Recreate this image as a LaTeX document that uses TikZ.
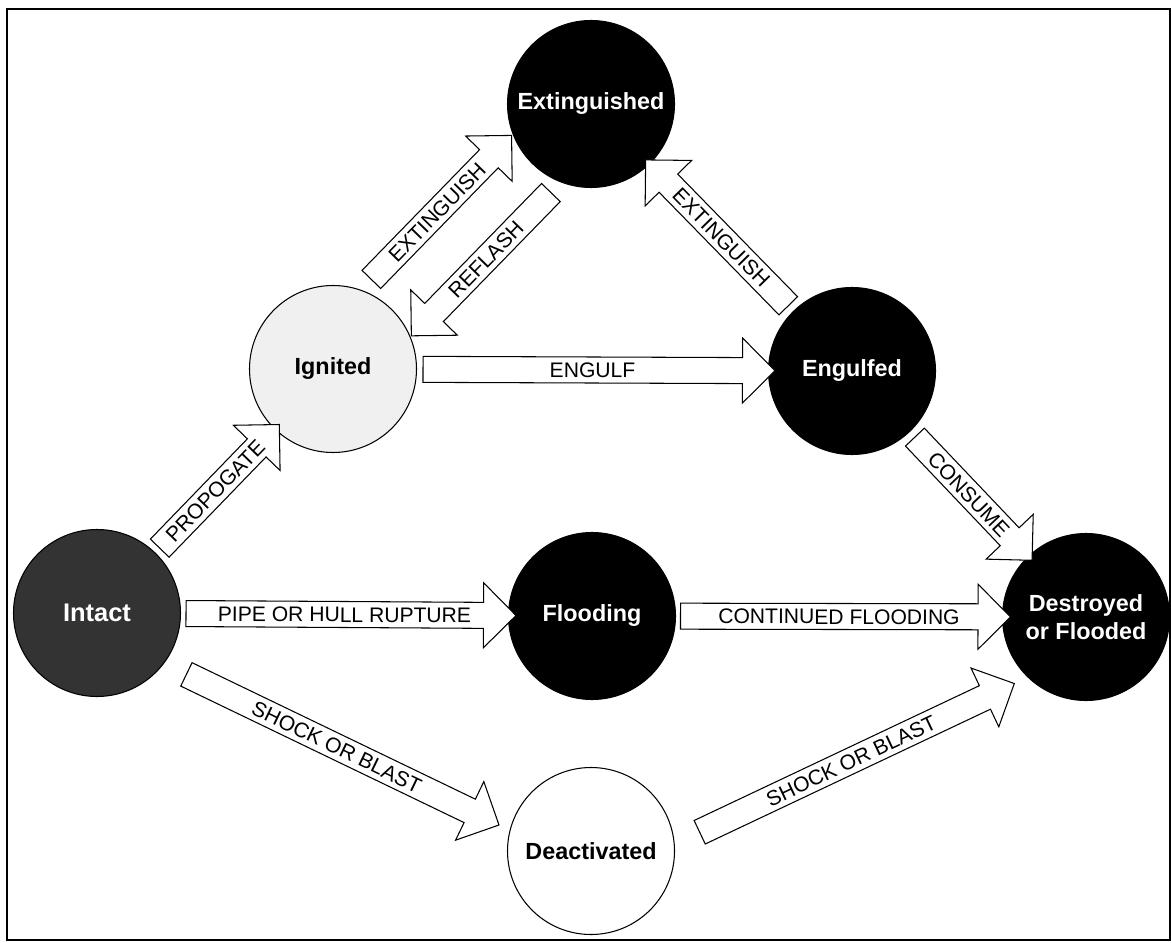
\documentclass[tikz,border=0pt]{standalone}
\usepackage{fontspec}
\setmainfont{Liberation Sans}
\usetikzlibrary{shapes.arrows, positioning, calc}

\tikzstyle{state} = [circle, minimum size=3.34cm, inner sep=0pt, align=center, draw=black, line width=0.6pt, font=\fontsize{13.3}{16}\selectfont\bfseries]
\tikzstyle{dark} = [state, fill=black, text=white]
\tikzstyle{flow} = [single arrow, draw=black, fill=white, line width=0.6pt, single arrow tip angle=90, single arrow head extend=0.39cm, minimum width=0pt, inner xsep=0pt, inner ysep=2.8pt, text height=8.6pt, text depth=0pt, font=\fontsize{12}{12}\selectfont, sloped]
\tikzstyle{back} = [shape border rotate=180]

\begin{document}
\begin{tikzpicture}
\useasboundingbox (0,0) rectangle (23.42,-18.86);
\draw [line width=1pt] (0.14,-0.18) rectangle (23.4,-18.8);

% States
\node (extinguished) [dark] at (11.82,-2.08) {Extinguished};
\node (ignited) [state, fill=black!6] at (6.66,-7.38) {Ignited};
\node (engulfed) [dark] at (17.04,-7.42) {Engulfed};
\node (intact) [dark, fill=black!80, font=\fontsize{14.5}{16}\selectfont\bfseries] at (1.94,-12.26) {Intact};
\node (flooding) [dark] at (11.84,-12.32) {Flooding};
\node (destroyed) [dark] at (21.72,-12.34) {Destroyed\\or Flooded};
\node (deactivated) [state, fill=white] at (11.82,-17.02) {Deactivated};

% Fire branch
\path (intact) -- node[flow, minimum height=3.44cm] {PROPOGATE} (ignited);
\path (ignited) -- node[flow, minimum height=4.02cm, yshift=0.7cm] {EXTINGUISH} (extinguished);
\path (ignited) -- node[flow, back, minimum height=4cm, yshift=-0.66cm] {REFLASH} (extinguished);
\path (ignited) -- node[flow, minimum height=7.04cm] {ENGULF} (engulfed);
\path (extinguished) -- node[flow, back, minimum height=4.08cm] {EXTINGUISH} (engulfed);
\path (engulfed) -- node[flow, minimum height=3.4cm] {CONSUME} (destroyed);

% Flooding branch
\path (intact) -- node[flow, minimum height=6.6cm] {PIPE OR HULL RUPTURE} (flooding);
\path (flooding) -- node[flow, minimum height=6.6cm] {CONTINUED FLOODING} (destroyed);

% Shock branch
\path (intact) -- node[flow, minimum height=6.94cm, yshift=-0.33cm] {SHOCK OR BLAST} (deactivated);
\path (deactivated) -- node[flow, minimum height=6.96cm, yshift=-0.59cm] {SHOCK OR BLAST} (destroyed);

\end{tikzpicture}
\end{document}
